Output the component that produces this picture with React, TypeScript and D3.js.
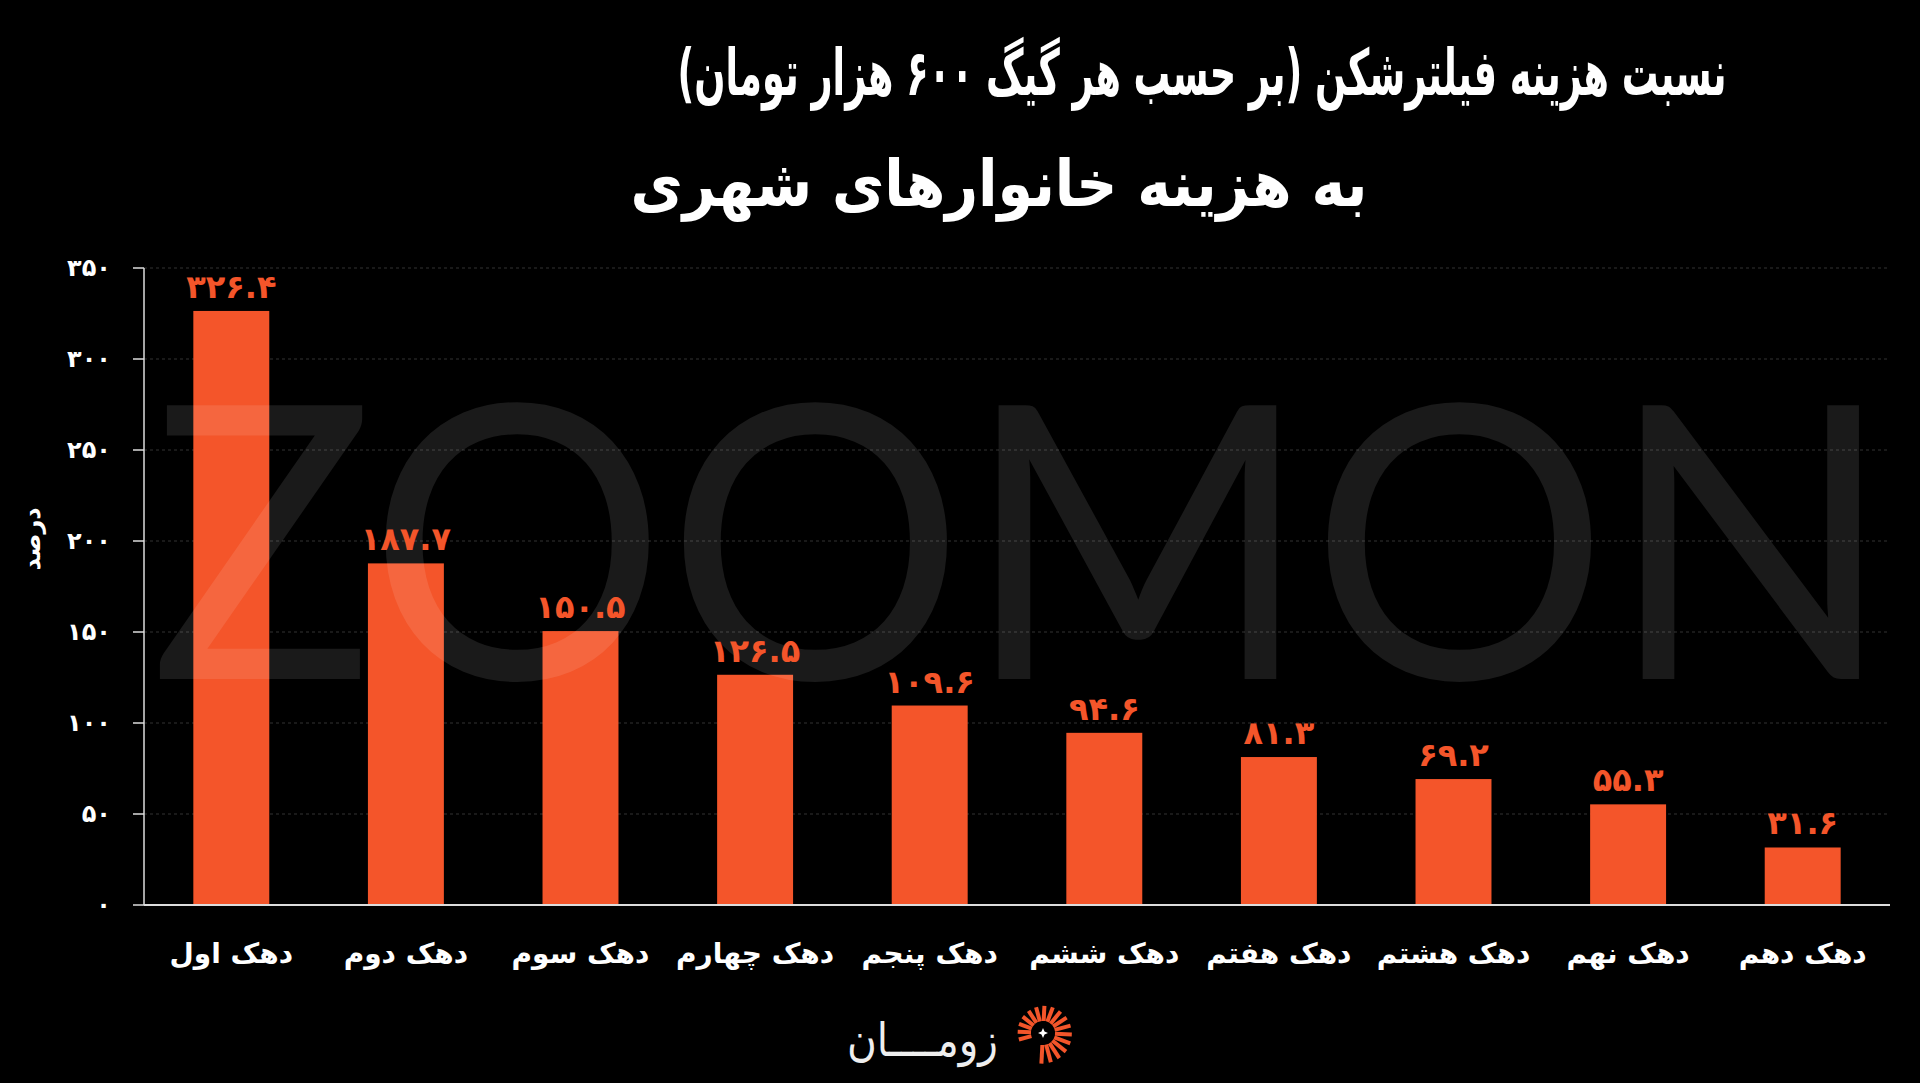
import React from "react";
import * as d3 from "d3";

const categories = ["دهک اول", "دهک دوم", "دهک سوم", "دهک چهارم", "دهک پنجم", "دهک ششم", "دهک هفتم", "دهک هشتم", "دهک نهم", "دهک دهم"];
const values = [326.4, 187.7, 150.5, 126.5, 109.6, 94.6, 81.3, 69.2, 55.3, 31.6];
const yTicks = [0, 50, 100, 150, 200, 250, 300, 350];
const titleLine1 = "نسبت هزینه فیلترشکن (بر حسب هر گیگ ۶۰۰ هزار تومان)";
const titleLine2 = "به هزینه خانوارهای شهری";
const yLabel = "درصد";
const watermark = "ZOOMON";
const brand = "زومــــان";

const W = 1920;
const H = 1083;
const M = { left: 144, right: 30, top: 268, bottom: 178 };
const ORANGE = "#F4552A";
const FA = "'DejaVu Sans', sans-serif";

const toFa = (s: string) => s.replace(/[0-9]/g, (d) => "۰۱۲۳۴۵۶۷۸۹"[+d]);

export default function App() {
  const x = d3
    .scaleBand<string>()
    .domain(categories)
    .range([M.left, W - M.right])
    .paddingInner(0.565)
    .paddingOuter(0.2825);
  const y = d3.scaleLinear().domain([0, 350]).range([H - M.bottom, M.top]);
  const baseY = y(0);

  // logo rays
  const cx = 1043, cy = 1033;
  const rays = d3.range(0, 17).map((i) => (165 + i * 18) * (Math.PI / 180));

  return (
    <svg
      width={W}
      height={H}
      style={{ position: "absolute", left: 0, top: 0, background: "#000", display: "block" }}
    >
      <rect x={0} y={0} width={W} height={H} fill="#000" />
      {/* title */}
      <g transform="translate(1202,0)">
        <text x={0} y={95} textAnchor="middle" fill="#fff" fontFamily={FA} fontWeight="bold" fontSize={64} direction="rtl" textLength={1049} lengthAdjust="spacingAndGlyphs">
          {titleLine1}
        </text>
      </g>
      <g transform="translate(999,0)">
        <text x={0} y={206} textAnchor="middle" fill="#fff" fontFamily={FA} fontWeight="bold" fontSize={64} direction="rtl" textLength={737} lengthAdjust="spacingAndGlyphs">
          {titleLine2}
        </text>
      </g>

      {/* gridlines */}
      {yTicks.filter((t) => t > 0).map((t) => (
        <line key={"g" + t} x1={M.left} x2={W - M.right} y1={y(t)} y2={y(t)} stroke="#333" strokeWidth={1} strokeDasharray="3,3" />
      ))}

      {/* bars */}
      {categories.map((c, i) => (
        <rect key={c} x={x(c)} y={y(values[i])} width={x.bandwidth()} height={baseY - y(values[i])} fill={ORANGE} />
      ))}

      {/* watermark */}
      <text
        x={150}
        y={679}
        fill="#fff"
        fillOpacity={0.1}
        fontFamily="Lato, 'Open Sans', sans-serif"
        fontWeight={400}
        fontSize={382}
        textLength={1743}
        lengthAdjust="spacingAndGlyphs"
      >
        {watermark}
      </text>

      {/* axes */}
      <line x1={M.left} x2={M.left} y1={y(350)} y2={baseY} stroke="#ddd" strokeWidth={1.5} />
      <line x1={M.left} x2={W - M.right} y1={baseY} y2={baseY} stroke="#ddd" strokeWidth={2} />
      {yTicks.map((t) => (
        <g key={"t" + t}>
          <line x1={M.left - 11} x2={M.left} y1={y(t)} y2={y(t)} stroke="#ddd" strokeWidth={1.5} />
          <text x={111} y={y(t)} dy="0.35em" textAnchor="end" fill="#fff" fontFamily={FA} fontWeight="bold" fontSize={24}>
            {toFa(String(t))}
          </text>
        </g>
      ))}
      <text
        transform={`translate(40,539) rotate(-90)`}
        textAnchor="middle"
        fill="#fff"
        fontFamily={FA}
        fontWeight="bold"
        fontSize={24}
      >
        {yLabel}
      </text>

      {/* value labels */}
      {categories.map((c, i) => (
        <text
          key={"v" + c}
          x={(x(c) as number) + x.bandwidth() / 2}
          y={y(values[i]) - 13}
          textAnchor="middle"
          fill={ORANGE}
          fontFamily={FA}
          fontWeight="bold"
          fontSize={32}
        >
          {toFa(values[i].toFixed(1))}
        </text>
      ))}

      {/* x labels */}
      {categories.map((c) => (
        <text
          key={"x" + c}
          x={(x(c) as number) + x.bandwidth() / 2}
          y={963}
          textAnchor="middle"
          fill="#fff"
          fontFamily={FA}
          fontWeight="bold"
          fontSize={28}
          direction="rtl"
        >
          {c}
        </text>
      ))}

      {/* logo */}
      <text x={998} y={1056} textAnchor="end" fill="#eee" fontFamily={FA} fontSize={46} textLength={151} lengthAdjust="spacingAndGlyphs">
        {brand}
      </text>
      {rays.map((a, i) => (
        <line
          key={"r" + i}
          x1={cx + Math.cos(a) * 12}
          y1={cy + Math.sin(a) * 12}
          x2={cx + Math.cos(a) * (25 + i * 0.35)}
          y2={cy + Math.sin(a) * (25 + i * 0.35)}
          stroke={ORANGE}
          strokeWidth={4}
        />
      ))}
      <path d={`M${cx},${cy - 5} L${cx + 1.5},${cy - 1.5} L${cx + 5},${cy} L${cx + 1.5},${cy + 1.5} L${cx},${cy + 5} L${cx - 1.5},${cy + 1.5} L${cx - 5},${cy} L${cx - 1.5},${cy - 1.5} Z`} fill="#fff" />
    </svg>
  );
}
